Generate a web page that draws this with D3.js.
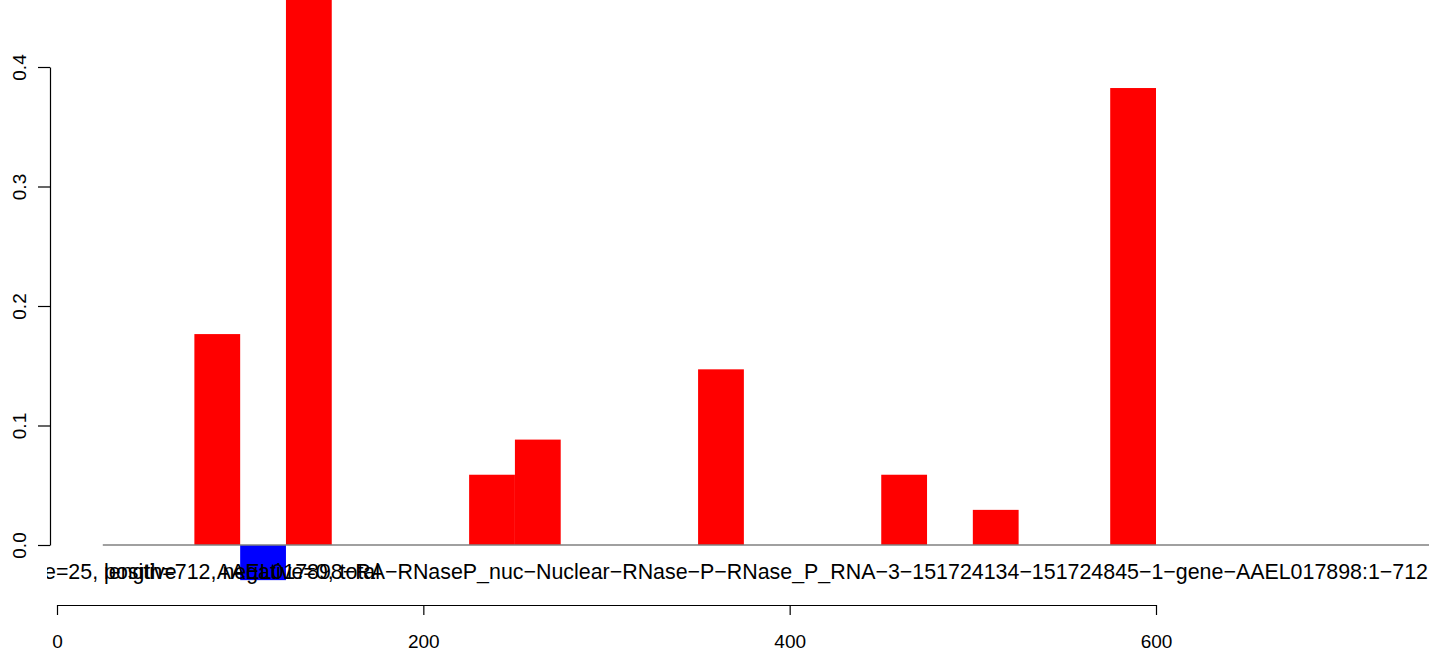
<!DOCTYPE html>
<html>
<head>
<meta charset="utf-8">
<script src="https://cdn.jsdelivr.net/npm/d3@7"></script>
<style>
  html, body { margin: 0; padding: 0; background: #fff; }
  svg { display: block; }
  text { font-family: "Liberation Sans", Arial, Helvetica, sans-serif; fill: #000; }
</style>
</head>
<body>
<svg id="chart" width="1429" height="652"></svg>
<script>
// ---- data ----
const binSize = 25;
const binStarts = [25, 50, 75, 100, 125, 150, 175, 200, 225, 250, 275, 300, 325, 350, 375,
                   400, 425, 450, 475, 500, 525, 550, 575, 600, 625, 650, 675, 700, 725];
const values = [0, 0, 0.1765, -0.0294, 0.5, 0, 0, 0, 0.0588, 0.0882, 0, 0, 0, 0.147, 0,
                0, 0, 0.0588, 0, 0.0294, 0, 0, 0.3824, 0, 0, 0, 0, 0, 0];
const yTicks = [0, 0.1, 0.2, 0.3, 0.4];
const xTicks = [0, 200, 400, 600];
const titleText = "AAEL017898\u2212RA\u2212RNaseP_nuc\u2212Nuclear\u2212RNase\u2212P\u2212RNase_P_RNA\u22123\u2212151724134\u2212151724845\u22121\u2212gene\u2212AAEL017898:1\u2212712";
const infoPrefix = "window_siz";
const infoText1 = "e=25, length=712, negative=0, total";
const infoText2 = "positive";

// ---- scales ----
const svg = d3.select("#chart");
const x = d3.scaleLinear().domain([0, 600]).range([57, 1156]);
const y = d3.scaleLinear().domain([0, 0.4]).range([545, 67]);

// clip for the text line (figure region starts a little left of the y axis)
svg.append("clipPath").attr("id", "figclip")
  .append("rect").attr("x", 47).attr("y", 0).attr("width", 1429 - 47).attr("height", 652);

// bars
svg.append("g").selectAll("rect")
  .data(binStarts.map((s, i) => ({ s, v: values[i] })))
  .join("rect")
  .attr("x", d => x(d.s))
  .attr("width", d => x(d.s + binSize) - x(d.s))
  .attr("y", d => y(Math.max(0, d.v)))
  .attr("height", d => Math.abs(y(d.v) - y(0)))
  .attr("fill", d => d.v >= 0 ? "#ff0000" : "#0000ff");

// zero baseline
svg.append("line")
  .attr("x1", x(binStarts[0])).attr("x2", 1429)
  .attr("y1", y(0)).attr("y2", y(0))
  .attr("stroke", "#808080").attr("stroke-width", 1.5);

const tickFont = "19px";

// y axis
const yAxis = svg.append("g")
  .attr("transform", "translate(50,0)")
  .call(d3.axisLeft(y).tickValues(yTicks).tickSize(12).tickSizeOuter(0).tickFormat(d3.format(".1f")));
yAxis.select(".domain").attr("stroke", "#000").attr("stroke-width", 1.2);
yAxis.selectAll(".tick line").attr("stroke", "#000").attr("stroke-width", 1.2);
yAxis.selectAll(".tick text")
  .attr("x", 0).attr("y", 0)
  .attr("dy", null)
  .attr("text-anchor", "middle")
  .attr("transform", "translate(-24,0) rotate(-90)")
  .style("font-size", tickFont)
  .style("font-family", "'Liberation Sans', Arial, sans-serif");

// x axis
const xAxis = svg.append("g")
  .attr("transform", "translate(0,605)")
  .call(d3.axisBottom(x).tickValues(xTicks).tickSize(10).tickSizeOuter(0).tickFormat(d3.format("d")));
xAxis.select(".domain").attr("stroke", "#000").attr("stroke-width", 1.2);
xAxis.selectAll(".tick line").attr("stroke", "#000").attr("stroke-width", 1.2);
xAxis.selectAll(".tick text")
  .attr("y", 43).attr("dy", null)
  .style("font-size", tickFont)
  .style("font-family", "'Liberation Sans', Arial, sans-serif");

// text line under the bars
const titleSize = "21.4px";
const textLine = svg.append("g").attr("clip-path", "url(#figclip)");

textLine.append("text")
  .attr("x", 1428).attr("y", 579)
  .attr("text-anchor", "end")
  .style("font-size", titleSize)
  .text(titleText);

const info = textLine.append("text")
  .attr("y", 579)
  .style("font-size", titleSize)
  .text(infoPrefix + infoText1);
const prefixW = info.node().getSubStringLength(0, infoPrefix.length);
const x0 = 44 - prefixW;
info.attr("x", x0);

const startPos = info.node().getSubStringLength(0, infoPrefix.length + "e=25, ".length);
textLine.append("text")
  .attr("x", x0 + startPos).attr("y", 579)
  .style("font-size", titleSize)
  .text(infoText2);
</script>
</body>
</html>
